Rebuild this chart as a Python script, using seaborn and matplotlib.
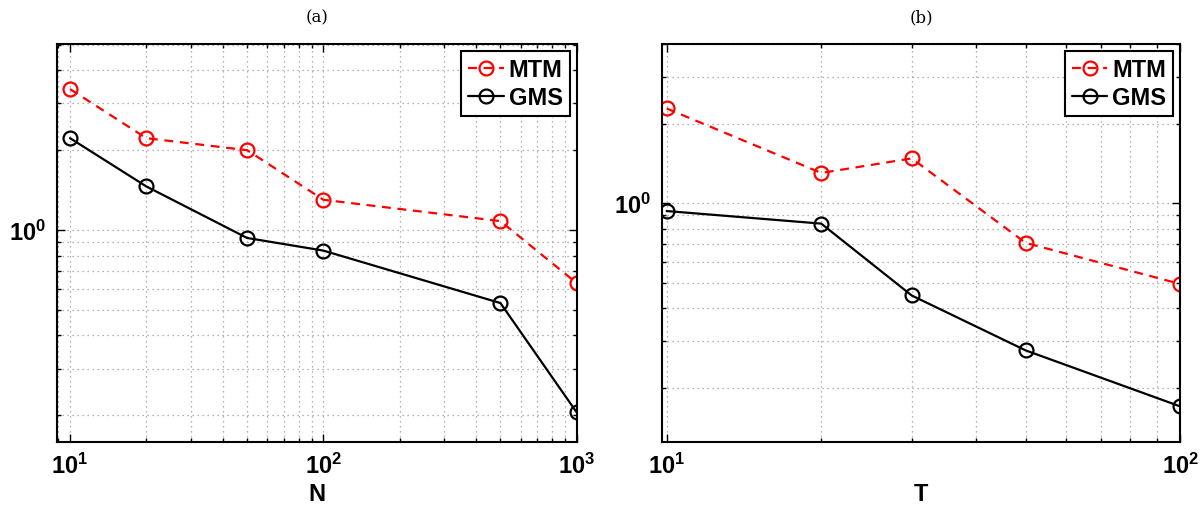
import numpy as np
import pandas as pd
import matplotlib
matplotlib.use("Agg")
import matplotlib.pyplot as plt
import seaborn as sns
from matplotlib.ticker import LogLocator, NullFormatter

# 데이터
n_vals = [10, 20, 50, 100, 500, 1000]
mtm_n = [3.40, 2.22, 2.00, 1.30, 1.08, 0.63]
gms_n = [2.22, 1.46, 0.933, 0.836, 0.53, 0.205]

t_vals = [10, 20, 30, 50, 100]
mtm_t = [2.28, 1.30, 1.476, 0.707, 0.494]
gms_t = [0.933, 0.836, 0.447, 0.277, 0.170]

panel_titles = ["(a)", "(b)"]
x_labels = ["N", "T"]
xtick_a = [10, 100, 1000]
xtick_a_labels = [r"$\mathbf{10^{1}}$", r"$\mathbf{10^{2}}$", r"$\mathbf{10^{3}}$"]
xtick_b = [10, 100]
xtick_b_labels = [r"$\mathbf{10^{1}}$", r"$\mathbf{10^{2}}$"]
ytick = [1]
ytick_labels = [r"$\mathbf{10^{0}}$"]

sns.set_style("ticks")
plt.rcParams["font.family"] = ["Liberation Sans", "DejaVu Sans"]
plt.rcParams["font.weight"] = "bold"
plt.rcParams["mathtext.fontset"] = "custom"
plt.rcParams["mathtext.bf"] = "Liberation Sans:bold"
plt.rcParams["mathtext.rm"] = "Liberation Sans:bold"
for key in ["text.color", "axes.labelcolor", "xtick.color", "ytick.color"]:
    plt.rcParams[key] = "black"

fig = plt.figure(figsize=(12.02, 5.06), dpi=100)
ax_a = fig.add_axes([0.0477, 0.1251, 0.4321, 0.786])
ax_b = fig.add_axes([0.5505, 0.1251, 0.4314, 0.786])

df_a = pd.DataFrame({"x": n_vals, "MTM": mtm_n, "GMS": gms_n})
df_b = pd.DataFrame({"x": t_vals, "MTM": mtm_t, "GMS": gms_t})

setups = [
    (ax_a, df_a, (8.91, 1000), (0.159, 5.03), xtick_a, xtick_a_labels),
    (ax_b, df_b, (9.78, 100), (0.125, 4.0), xtick_b, xtick_b_labels),
]

for i, (ax, df, xl, yl, xt, xtl) in enumerate(setups):
    sns.lineplot(data=df, x="x", y="MTM", ax=ax, color="red", linestyle="--",
                 marker="o", markersize=10, markerfacecolor="none",
                 markeredgecolor="red", markeredgewidth=1.6, linewidth=1.6,
                 label="MTM")
    ax.lines[-1].set_dashes([4, 3])
    sns.lineplot(data=df, x="x", y="GMS", ax=ax, color="black", linestyle="-",
                 marker="o", markersize=10, markerfacecolor="none",
                 markeredgecolor="black", markeredgewidth=1.6, linewidth=1.6,
                 label="GMS")
    ax.set_xscale("log")
    ax.set_yscale("log")
    ax.set_xlim(*xl)
    ax.set_ylim(*yl)
    ax.set_xticks(xt)
    ax.set_xticklabels(xtl)
    ax.set_yticks(ytick)
    ax.set_yticklabels(ytick_labels)
    for axis in (ax.xaxis, ax.yaxis):
        axis.set_minor_locator(LogLocator(base=10, subs=np.arange(2, 10)))
        axis.set_minor_formatter(NullFormatter())
    ax.tick_params(which="both", direction="in", top=True, right=True,
                   labelsize=17, width=1.0, colors="black")
    ax.tick_params(which="major", length=6, pad=8)
    ax.tick_params(which="minor", length=3)
    ax.grid(True, which="both", linestyle=(0, (1, 3)), color="#9a9a9a", linewidth=0.9)
    for sp in ax.spines.values():
        sp.set_visible(True)
        sp.set_linewidth(1.5)
        sp.set_color("black")
    ax.set_xlabel(x_labels[i], fontsize=17, fontweight="bold", labelpad=3, color="black")
    ax.set_ylabel("")
    ax.set_title(panel_titles[i], fontsize=12, family="DejaVu Serif",
                 fontweight="normal", pad=16, color="black")
    leg = ax.legend(loc="upper right", fontsize=17, handlelength=1.5,
                    handletextpad=0.2, borderpad=0.3, labelspacing=0.2,
                    fancybox=False, framealpha=1, borderaxespad=0.3)
    leg.get_frame().set_edgecolor("black")
    leg.get_frame().set_linewidth(1.5)
    for txt in leg.get_texts():
        txt.set_fontweight("bold")
        txt.set_color("black")

fig.savefig("out.png", dpi=100)
